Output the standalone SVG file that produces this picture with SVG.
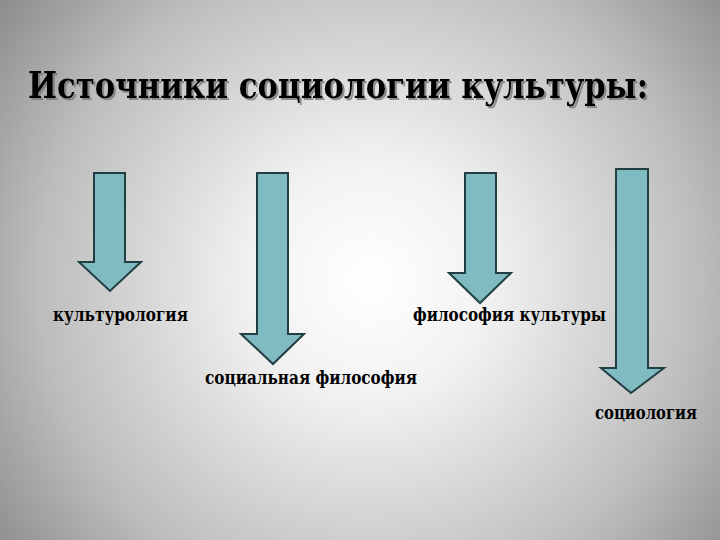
<svg xmlns="http://www.w3.org/2000/svg" width="720" height="540" viewBox="0 0 720 540">
<defs>
<radialGradient id="bg" cx="370" cy="280" r="470" gradientUnits="userSpaceOnUse">
<stop offset="0" stop-color="#ffffff"/>
<stop offset="0.25" stop-color="#f2f2f2"/>
<stop offset="0.7" stop-color="#bdbdbd"/>
<stop offset="1" stop-color="#8a8a8a"/>
</radialGradient>
<filter id="sh" x="-5%" y="-20%" width="110%" height="140%">
<feDropShadow dx="2" dy="2" stdDeviation="0.6" flood-color="#777777" flood-opacity="0.8"/>
</filter>
<style>
.arrow{fill:#80bbc1;stroke:#213f42;stroke-width:2;stroke-linejoin:miter}
text{font-family:"DejaVu Serif Condensed","DejaVu Serif","Liberation Serif",serif;font-weight:bold;fill:#000}
.lbl{font-size:19px}
.title{font-size:38px}
</style>
</defs>
<rect width="720" height="540" fill="url(#bg)"/>
<g id="title">
<text class="title" x="28" y="98" filter="url(#sh)" textLength="620" lengthAdjust="spacingAndGlyphs">Источники социологии культуры:</text>
</g>
<g id="connectors">
<polygon id="arrow1" class="arrow" points="94,173 125,173 125,262 141,262 110,291 79,262 94,262"/>
<polygon id="arrow2" class="arrow" points="257,173 288,173 288,334 304,334 273,364 241,334 257,334"/>
<polygon id="arrow3" class="arrow" points="465,173 496,173 496,273 511,273 480,303 449,273 465,273"/>
<polygon id="arrow4" class="arrow" points="616,169 648,169 648,368 664,368 631,393 601,368 616,368"/>
</g>
<g id="node-kulturologia"><text class="lbl" x="53" y="321" textLength="135" lengthAdjust="spacingAndGlyphs">культурология</text></g>
<g id="node-filosofia-kultury"><text class="lbl" x="413" y="321" textLength="193" lengthAdjust="spacingAndGlyphs">философия культуры</text></g>
<g id="node-socialnaya-filosofia"><text class="lbl" x="205" y="384" textLength="212" lengthAdjust="spacingAndGlyphs">социальная философия</text></g>
<g id="node-sociologia"><text class="lbl" x="595" y="419" textLength="102" lengthAdjust="spacingAndGlyphs">социология</text></g>
</svg>
